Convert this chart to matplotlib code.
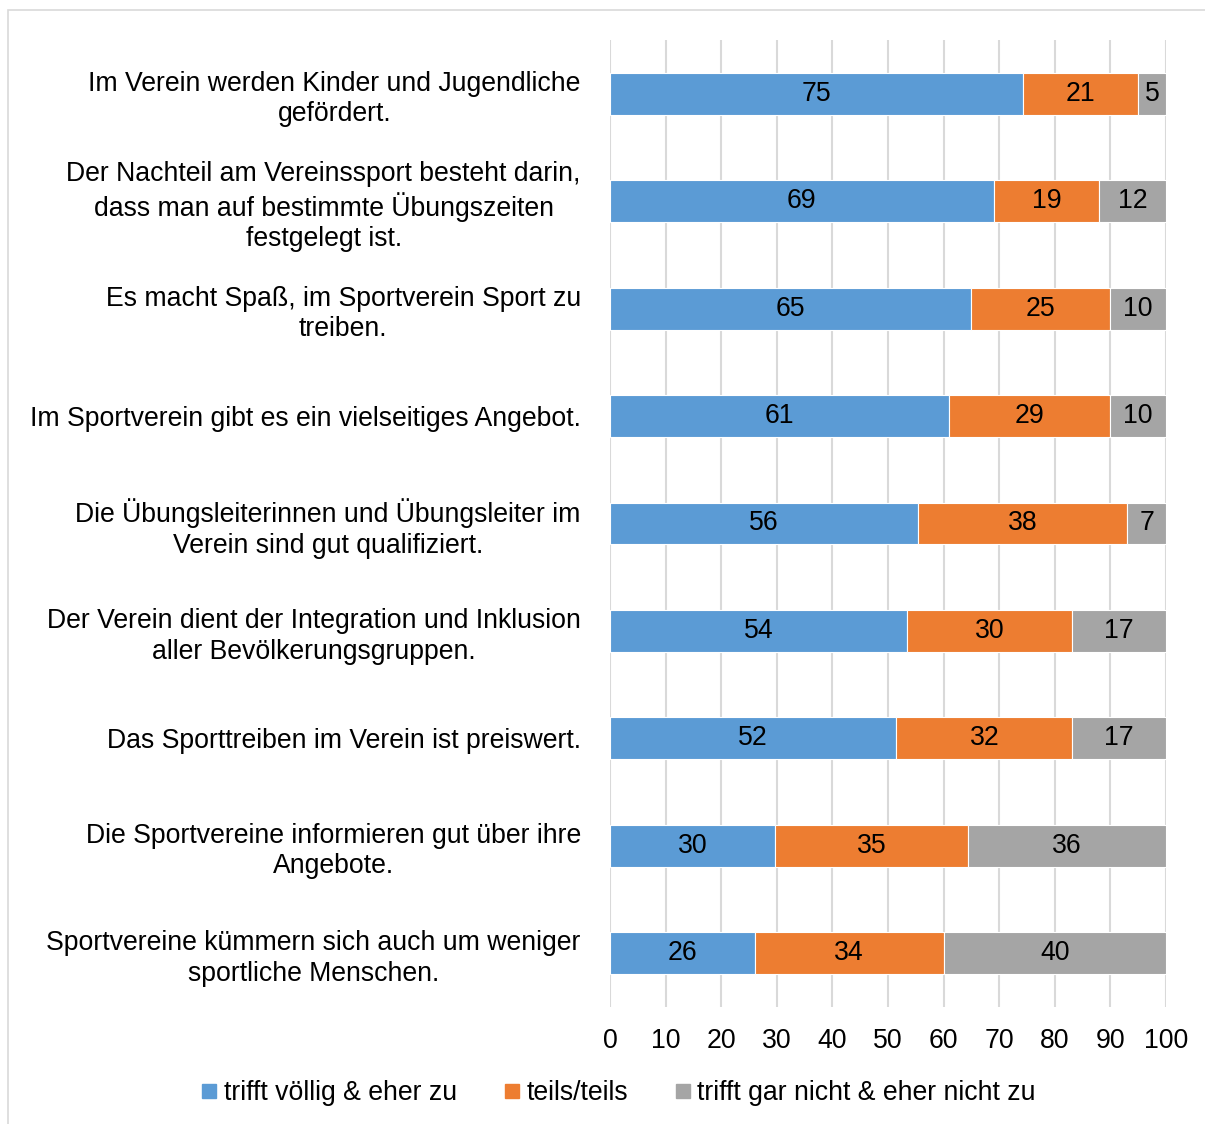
import numpy as np
import matplotlib.pyplot as plt
from matplotlib.patches import Rectangle
from matplotlib.lines import Line2D

plt.rcParams['font.family'] = ['Liberation Sans', 'DejaVu Sans']

# statements, top to bottom
items = [
    "Im Verein werden Kinder und Jugendliche\ngefördert.",
    "Der Nachteil am Vereinssport besteht darin,\ndass man auf bestimmte Übungszeiten\nfestgelegt ist.",
    "Es macht Spaß, im Sportverein Sport zu\ntreiben.",
    "Im Sportverein gibt es ein vielseitiges Angebot.",
    "Die Übungsleiterinnen und Übungsleiter im\nVerein sind gut qualifiziert.",
    "Der Verein dient der Integration und Inklusion\naller Bevölkerungsgruppen.",
    "Das Sporttreiben im Verein ist preiswert.",
    "Die Sportvereine informieren gut über ihre\nAngebote.",
    "Sportvereine kümmern sich auch um weniger\nsportliche Menschen.",
]
agree = [75, 69, 65, 61, 56, 54, 52, 30, 26]
partly = [21, 19, 25, 29, 38, 30, 32, 35, 34]
disagree = [5, 12, 10, 10, 7, 17, 17, 36, 40]
series_names = ["trifft völlig & eher zu", "teils/teils", "trifft gar nicht & eher nicht zu"]
colors = ["#5B9BD5", "#ED7D31", "#A5A5A5"]

FS = 19.2
W, H = 1205, 1124
fig = plt.figure(figsize=(W / 100, H / 100), dpi=100)
ax = fig.add_axes([610 / W, 1 - 1007 / H, 556 / W, 967 / H])

# outer chart border (only top and left visible in the crop)
fig.patches.append(Rectangle((8 / W, -0.1), 1.2, 1 - 10 / H + 0.1, transform=fig.transFigure,
                             fill=False, edgecolor="#d9d9d9", linewidth=1.2))

data = np.array([agree, partly, disagree], dtype=float)
pct = data / data.sum(axis=0) * 100  # 100% stacked like Excel
y = np.arange(len(items))
left = np.zeros(len(items))
for k in range(3):
    ax.barh(y, pct[k], left=left, height=0.39, color=colors[k],
            edgecolor="white", linewidth=0.8, zorder=3)
    for i in range(len(items)):
        ax.text(left[i] + pct[k][i] / 2, y[i], str(int(data[k][i])),
                ha="center", va="center", fontsize=FS, color="black", zorder=4)
    left += pct[k]

ax.set_xlim(0, 100)
ax.set_ylim(len(items) - 0.5, -0.5)
ax.set_xticks(np.arange(0, 101, 10))
ax.grid(axis="x", color="#d9d9d9", linewidth=1.5, zorder=0)
ax.set_axisbelow(True)
for s in ax.spines.values():
    s.set_visible(False)
ax.set_yticks(y)
ax.set_yticklabels(items, fontsize=FS, linespacing=1.23)
ax.tick_params(axis="y", length=0, pad=21)
ax.tick_params(axis="x", length=0, pad=15, labelsize=FS)
for lab in ax.get_yticklabels():
    lab.set_multialignment("center")

handles = [Line2D([0], [0], marker="s", linestyle="none", markersize=10,
                  markerfacecolor=c, markeredgecolor=c) for c in colors]
fig.legend(handles, series_names, loc="center", bbox_to_anchor=(618 / W, 1 - 1093 / H),
           ncol=3, frameon=False, fontsize=FS, handletextpad=0.2,
           columnspacing=1.7, handlelength=0.7)

fig.savefig("out.png", dpi=100)
